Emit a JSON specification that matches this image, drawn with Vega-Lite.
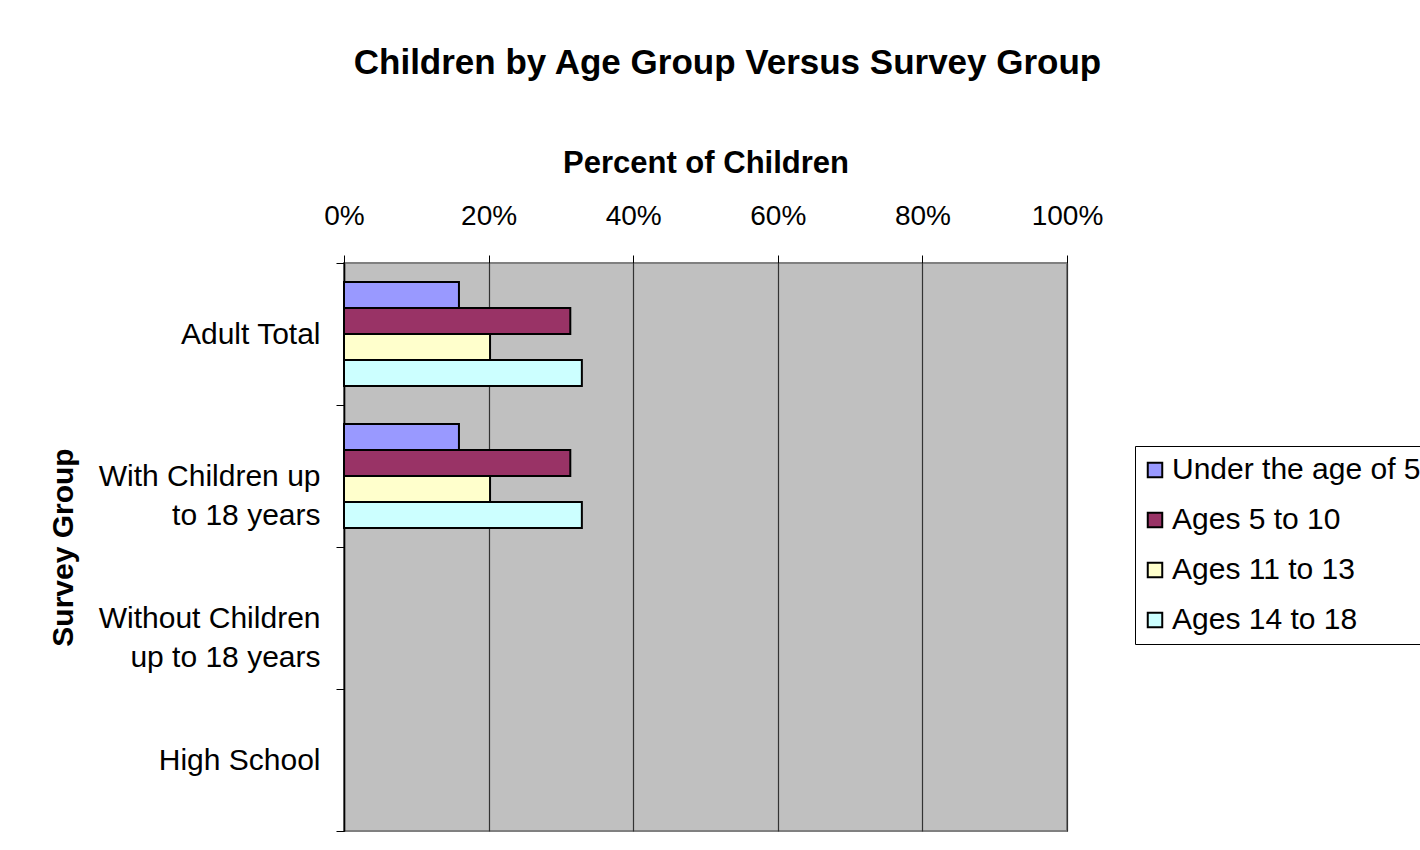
{
  "$schema": "https://vega.github.io/schema/vega-lite/v6.json",
  "autosize": {"type": "none"},
  "width": 723,
  "height": 568,
  "padding": {"left": 344, "top": 263, "right": 353, "bottom": 19},
  "background": "white",
  "title": {
    "text": "Children by Age Group Versus Survey Group",
    "font": "Liberation Sans",
    "fontSize": 35,
    "fontWeight": "bold",
    "color": "black",
    "anchor": "middle",
    "dx": 22,
    "offset": 66
  },
  "data": {
    "values": [
      {"group": "Adult Total", "age": "Under the age of 5", "pct": 0.159},
      {"group": "Adult Total", "age": "Ages 5 to 10", "pct": 0.313},
      {"group": "Adult Total", "age": "Ages 11 to 13", "pct": 0.202},
      {"group": "Adult Total", "age": "Ages 14 to 18", "pct": 0.329},
      {"group": "With Children up to 18 years", "age": "Under the age of 5", "pct": 0.159},
      {"group": "With Children up to 18 years", "age": "Ages 5 to 10", "pct": 0.313},
      {"group": "With Children up to 18 years", "age": "Ages 11 to 13", "pct": 0.202},
      {"group": "With Children up to 18 years", "age": "Ages 14 to 18", "pct": 0.329},
      {"group": "Without Children up to 18 years", "age": "Under the age of 5", "pct": null},
      {"group": "High School", "age": "Under the age of 5", "pct": null}
    ]
  },
  "mark": {"type": "bar", "stroke": "black", "strokeWidth": 2, "opacity": 1},
  "encoding": {
    "y": {
      "field": "group",
      "type": "nominal",
      "sort": ["Adult Total", "With Children up to 18 years", "Without Children up to 18 years", "High School"],
      "scale": {
        "domain": ["Adult Total", "With Children up to 18 years", "Without Children up to 18 years", "High School"],
        "paddingInner": 0,
        "paddingOuter": 0
      },
      "axis": {
        "title": "Survey Group",
        "titleFont": "Liberation Sans",
        "titleFontSize": 30,
        "titleFontWeight": "bold",
        "titleColor": "black",
        "titlePadding": 66,
        "labelFont": "Liberation Sans",
        "labelFontSize": 30,
        "labelColor": "black",
        "labelLineHeight": 39,
        "labelPadding": 16,
        "labelExpr": "datum.value == 'With Children up to 18 years' ? ['With Children up', 'to 18 years'] : datum.value == 'Without Children up to 18 years' ? ['Without Children', 'up to 18 years'] : datum.value",
        "labelLimit": 400,
        "tickBand": "extent",
        "tickSize": 8,
        "tickColor": "black",
        "domainColor": "black",
        "domainWidth": 1.5,
        "grid": false
      }
    },
    "x": {
      "field": "pct",
      "type": "quantitative",
      "scale": {"domain": [0, 1], "nice": false},
      "axis": {
        "orient": "top",
        "title": "Percent of Children",
        "titleFont": "Liberation Sans",
        "titleFontSize": 31,
        "titleFontWeight": "bold",
        "titleColor": "black",
        "titlePadding": 23,
        "format": ".0%",
        "values": [0, 0.2, 0.4, 0.6, 0.8, 1],
        "labelFont": "Liberation Sans",
        "labelFontSize": 28,
        "labelColor": "black",
        "labelPadding": 25,
        "labelFlush": false,
        "tickSize": 8,
        "tickColor": "black",
        "domain": false,
        "grid": true,
        "gridColor": "#333333",
        "gridWidth": 1.2
      }
    },
    "yOffset": {
      "field": "age",
      "type": "nominal",
      "sort": ["Under the age of 5", "Ages 5 to 10", "Ages 11 to 13", "Ages 14 to 18"],
      "scale": {"paddingInner": 0, "paddingOuter": 0.73}
    },
    "color": {
      "field": "age",
      "type": "nominal",
      "sort": ["Under the age of 5", "Ages 5 to 10", "Ages 11 to 13", "Ages 14 to 18"],
      "scale": {
        "domain": ["Under the age of 5", "Ages 5 to 10", "Ages 11 to 13", "Ages 14 to 18"],
        "range": ["#9999ff", "#993366", "#ffffcc", "#ccffff"]
      },
      "legend": {
        "title": null,
        "orient": "none",
        "legendX": 791,
        "legendY": 183,
        "direction": "vertical",
        "fillColor": "white",
        "strokeColor": "black",
        "padding": 9,
        "symbolType": "square",
        "symbolSize": 210,
        "symbolOffset": -4,
        "symbolStrokeColor": "black",
        "symbolStrokeWidth": 2,
        "symbolOpacity": 1,
        "labelFont": "Liberation Sans",
        "labelFontSize": 30,
        "labelColor": "black",
        "labelOffset": 2,
        "labelLimit": 400,
        "rowPadding": 20
      }
    }
  },
  "config": {
    "view": {"fill": "#c0c0c0", "stroke": "#808080", "strokeWidth": 2}
  }
}
